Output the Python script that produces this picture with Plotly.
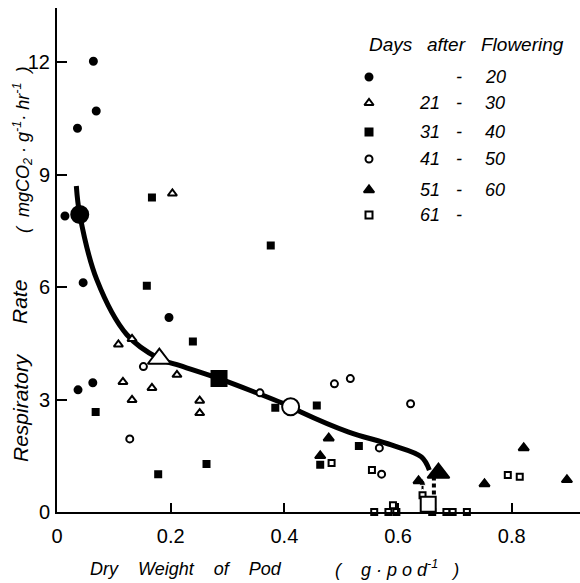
import plotly.graph_objects as go

# ---------------- data ----------------
# <= 20 days (filled circles)
d20_x = [0.064, 0.069, 0.036, 0.014, 0.046, 0.037, 0.063, 0.197]
d20_y = [12.03, 10.70, 10.24, 7.90, 6.12, 3.26, 3.45, 5.19]
# 21-30 days (open triangles)
d30_x = [0.203, 0.108, 0.132, 0.116, 0.132, 0.167, 0.211, 0.251, 0.251]
d30_y = [8.50, 4.47, 4.62, 3.47, 2.99, 3.31, 3.66, 2.97, 2.64]
# 31-40 days (filled squares)
d40_x = [0.167, 0.158, 0.376, 0.068, 0.239, 0.178, 0.263, 0.384, 0.457, 0.531, 0.463]
d40_y = [8.39, 6.04, 7.11, 2.67, 4.55, 1.01, 1.28, 2.78, 2.84, 1.76, 1.26]
# 41-50 days (open circles)
d50_x = [0.152, 0.128, 0.357, 0.488, 0.516, 0.622, 0.567, 0.571]
d50_y = [3.88, 1.95, 3.18, 3.42, 3.56, 2.89, 1.71, 1.01]
# 51-60 days (filled triangles)
d60_x = [0.478, 0.463, 0.636, 0.752, 0.821, 0.897]
d60_y = [1.97, 1.50, 0.83, 0.75, 1.71, 0.86]
# 61- days (open squares)
d61_x = [0.483, 0.554, 0.793, 0.814, 0.643, 0.558, 0.583, 0.591, 0.597, 0.660, 0.685, 0.696, 0.721]
d61_y = [1.31, 1.12, 0.99, 0.94, 0.45, 0.0, 0.0, 0.18, 0.0, 0.0, 0.0, 0.0, 0.0]

# group means (large symbols)
mean_x = [0.040, 0.180, 0.285, 0.411, 0.671, 0.653]
mean_y = [7.94, 4.09, 3.56, 2.81, 1.04, 0.21]

# fitted curve
curve_x = [0.034, 0.040, 0.070, 0.123, 0.180, 0.211, 0.285, 0.346, 0.411, 0.429, 0.512, 0.588, 0.641, 0.655]
curve_y = [8.70, 7.94, 6.20, 4.73, 4.09, 3.93, 3.56, 3.21, 2.81, 2.67, 2.14, 1.79, 1.47, 1.12]

legend_labels = [("", "20"), ("21", "30"), ("31", "40"), ("41", "50"), ("51", "60"), ("61", "")]

x_ticks = [0, 0.2, 0.4, 0.6, 0.8]
y_ticks = [0, 3, 6, 9, 12]

# ---------------- geometry helpers ----------------
W, H = 580, 583
L, R, T, B = 57, 0, 8, 71
XR = [0, 0.92]
YR = [0, 13.45]


def px2x(px):
    return XR[0] + (px - L) / (W - L - R) * (XR[1] - XR[0])


def py2y(py):
    return YR[0] + (H - B - py) / (H - T - B) * (YR[1] - YR[0])


def ppx(px):
    return (px - L) / (W - L - R)


def ppy(py):
    return (H - B - py) / (H - T - B)


BLK = "black"
WHT = "white"
fig = go.Figure()

# curve
fig.add_trace(go.Scatter(x=curve_x, y=curve_y, mode="lines",
                         line=dict(color=BLK, width=5, shape="spline", smoothing=1.0),
                         hoverinfo="skip", showlegend=False))
# dashed drop from large triangle to large square
fig.add_trace(go.Scatter(x=[mean_x[4] - 0.008, mean_x[4] - 0.008], y=[0.95, 0.40], mode="lines",
                         line=dict(color=BLK, width=4, dash="4px,3px"),
                         hoverinfo="skip", showlegend=False))
# small arrow above small open square
fig.add_trace(go.Scatter(x=[d61_x[4], d61_x[4]], y=[d61_y[4] + 0.15, d61_y[4] + 0.45], mode="lines+markers",
                         line=dict(color=BLK, width=2),
                         marker=dict(symbol=["line-ew", "arrow-up"], size=[1, 7], color=BLK, opacity=1),
                         hoverinfo="skip", showlegend=False))

sym_specs = [
    (d20_x, d20_y, "circle", BLK, 7),
    (d30_x, d30_y, "triangle-up", WHT, 8),
    (d40_x, d40_y, "square", BLK, 6),
    (d50_x, d50_y, "circle", WHT, 7),
    (d60_x, d60_y, "triangle-up", BLK, 9),
    (d61_x, d61_y, "square", WHT, 6),
]
for xs, ys, sym, col, sz in sym_specs:
    fig.add_trace(go.Scatter(x=xs, y=ys, mode="markers", cliponaxis=False,
                             marker=dict(symbol=sym, size=sz, color=col, opacity=1,
                                         line=dict(color=BLK, width=2)),
                             showlegend=False))

# large mean symbols
big_syms = ["circle", "triangle-up", "square", "circle", "triangle-up", "square"]
big_fill = [BLK, WHT, BLK, WHT, BLK, WHT]
big_size = [17, 20, 15, 17, 19, 15]
fig.add_trace(go.Scatter(x=mean_x, y=mean_y, mode="markers", cliponaxis=False,
                         marker=dict(symbol=big_syms, size=big_size, color=big_fill, opacity=1,
                                     line=dict(color=BLK, width=2)),
                         showlegend=False))

# ---------------- legend (custom) ----------------
leg_rows_py = [77, 103, 132, 159, 190, 215]
leg_syms = ["circle", "triangle-up", "square", "circle", "triangle-up", "square"]
leg_fill = [BLK, WHT, BLK, WHT, BLK, WHT]
leg_sizes = [7, 8, 7, 7, 9, 7]
fig.add_trace(go.Scatter(x=[px2x(369)] * 6, y=[py2y(p) for p in leg_rows_py], mode="markers",
                         marker=dict(symbol=leg_syms, size=leg_sizes, color=leg_fill, opacity=1,
                                     line=dict(color=BLK, width=2)),
                         showlegend=False, hoverinfo="skip"))
ital = dict(family="Liberation Sans", size=18, color=BLK)
head = dict(family="Liberation Sans", size=19, color=BLK)
for word, cx in [("Days", 391), ("after", 446), ("Flowering", 522)]:
    fig.add_annotation(x=ppx(cx), y=ppy(45), xref="paper", yref="paper", xanchor="center",
                       yanchor="middle", text=f"<i>{word}</i>", showarrow=False, font=head)
for (lo, hi), py in zip(legend_labels, leg_rows_py):
    if lo:
        fig.add_annotation(x=ppx(442), y=ppy(py), xref="paper", yref="paper", xanchor="right",
                           yanchor="middle", text=f"<i>{lo}</i>", showarrow=False, font=ital)
    fig.add_annotation(x=ppx(459), y=ppy(py), xref="paper", yref="paper", xanchor="center",
                       yanchor="middle", text="<i>-</i>", showarrow=False, font=ital)
    if hi:
        fig.add_annotation(x=ppx(483), y=ppy(py), xref="paper", yref="paper", xanchor="left",
                           yanchor="middle", text=f"<i>{hi}</i>", showarrow=False, font=ital)

# ---------------- axis titles ----------------
tfont = dict(family="Liberation Sans", size=18, color=BLK)
yfont = dict(family="Liberation Sans", size=21, color=BLK)
fig.add_annotation(x=ppx(186), y=ppy(569), xref="paper", yref="paper", text="<i>Dry    Weight    of    Pod</i>",
                   showarrow=False, font=tfont, xanchor="center", yanchor="middle")
fig.add_annotation(x=ppx(397), y=ppy(568), xref="paper", yref="paper",
                   text="<i>(    g · p o d<sup>-1</sup>   )</i>",
                   showarrow=False, font=tfont, xanchor="center", yanchor="middle")
fig.add_annotation(x=ppx(20), y=ppy(408), xref="paper", yref="paper", text="<i>Respiratory</i>", textangle=-90,
                   showarrow=False, font=yfont, xanchor="center", yanchor="middle")
fig.add_annotation(x=ppx(20), y=ppy(302), xref="paper", yref="paper", text="<i>Rate</i>", textangle=-90,
                   showarrow=False, font=yfont, xanchor="center", yanchor="middle")
fig.add_annotation(x=ppx(22), y=ppy(150), xref="paper", yref="paper",
                   text="<i>(  mgCO<sub>2</sub> · g<sup>-1</sup>· hr<sup>-1</sup>  )</i>", textangle=-90,
                   showarrow=False, font=tfont, xanchor="center", yanchor="middle")

tickfont = dict(family="Liberation Sans", size=20, color=BLK)
fig.update_xaxes(range=XR, tickvals=x_ticks, ticktext=["0", "0.2", "0.4", "0.6", "0.8"],
                 showline=True, linecolor=BLK, linewidth=2, ticks="inside", ticklen=9,
                 tickwidth=2, tickcolor=BLK, showgrid=False, zeroline=False,
                 tickfont=tickfont, ticklabelstandoff=5)
fig.update_yaxes(range=YR, tickvals=y_ticks, ticktext=[str(v) for v in y_ticks],
                 showline=True, linecolor=BLK, linewidth=2, ticks="inside", ticklen=10,
                 tickwidth=2, tickcolor=BLK, showgrid=False, zeroline=False,
                 tickfont=tickfont, ticklabelstandoff=1)
fig.update_layout(width=W, height=H, margin=dict(l=L, r=R, t=T, b=B),
                  plot_bgcolor="white", paper_bgcolor="white", showlegend=False)

fig.write_html("out.html")
